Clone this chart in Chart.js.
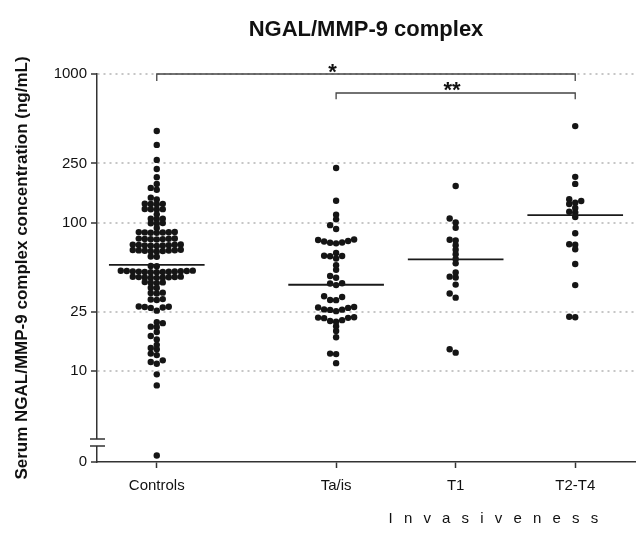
<!DOCTYPE html>
<html lang="en">
<head>
<meta charset="utf-8">
<title>NGAL/MMP-9 complex</title>
<script src="https://cdn.jsdelivr.net/npm/chart.js@4"></script>
<style>
  html, body { margin: 0; padding: 0; background: #fff; }
  canvas { display: block; }
</style>
</head>
<body>
<canvas id="grafico" width="639" height="545"></canvas>
<script>
const ctx = document.getElementById('grafico').getContext('2d');

// Datos (ng/mL)
const categorias = ['Controls', 'Ta/is', 'T1', 'T2-T4'];
const posiciones = [0, 1.5, 2.5, 3.5];

const controles = [413, 333, 264, 229, 202, 182, 171, 166, 147, 143,
  134.0, 133.6, 133.2, 132.8, 123.3, 123.0, 122.7, 122.4, 113.5,
  106.2, 105.9, 105.6, 99.1, 98.8, 98.5, 91.8,
  86.4, 86.2, 86.0, 85.8, 85.6, 85.4, 85.2,
  78.1, 77.9, 77.7, 77.5, 77.3, 77.1, 76.9,
  71.2, 71.0, 70.8, 70.6, 70.4, 70.2, 70.0, 69.8, 69.6,
  65.5, 65.3, 65.1, 64.9, 64.7, 64.5, 64.3, 64.1, 63.9,
  59.1, 58.8, 51.0, 50.7,
  47.4, 47.3, 47.2, 47.1, 47.0, 46.9, 46.8, 46.7, 46.6, 46.5, 46.4, 46.3, 46.2,
  43.2, 43.1, 43.0, 42.9, 42.8, 42.7, 42.6, 42.5, 42.4,
  39.7, 39.5, 39.3, 39.1, 36.4, 36.2, 33.7, 33.5, 33.3, 30.5, 30.3, 30.1,
  27.2, 27.1, 27.0, 26.8, 26.6, 25.5, 21.3, 21.0, 19.9, 19.8,
  18.3, 17.2, 16.3, 15.0, 14.3, 14.0, 13.1, 12.8, 11.8, 11.5, 11.2, 9.5, 8.0, 2.7];

const taIs = [233, 140, 113, 105, 96, 90.4,
  76.8, 76.2, 75.1, 74.5, 73.3, 73.1, 72.4,
  62.3, 59.7, 59.5, 59.3, 57.2, 51.5, 48.0, 43.6, 42.5, 39.0, 38.8, 37.9,
  31.9, 31.5, 30.1, 30.0, 27.0, 26.8, 26.6, 26.0, 25.9, 25.8, 25.3,
  23.0, 22.9, 22.8, 22.7, 22.0, 21.7, 21.5, 20.0, 18.6, 16.9, 13.1, 13.0, 11.3];

const t1 = [176, 106.5, 100, 92.3, 76.5, 75.6, 70.4, 65.6, 61.2, 56.9,
  53.1, 46.1, 43.2, 42.6, 38.2, 33.3, 31.2, 14.0, 13.3];

const t2t4 = [446, 203, 182, 143.3, 139.6, 135.7, 133.2, 125.2, 118.1, 116.8,
  108.9, 84.6, 71.4, 70.8, 66.0, 52.5, 37.9, 23.2, 23.0];

const medianas = [51.8, 38.1, 56.5, 112];

const ticksY = [10, 25, 100, 250, 1000];
const yMin = 2.44;   // marcado como "0" bajo el corte del eje
const yMax = 1000;
const corteEje = [3.13, 3.48];

const comparaciones = [
  { desde: 0, hasta: 3.5, nivel: 1000, pie: 897, texto: '*', xTexto: 1.47 },
  { desde: 1.5, hasta: 3.5, nivel: 745, pie: 675, texto: '**', xTexto: 2.47 }
];

const FUENTE = "'Liberation Sans', Arial, Helvetica, sans-serif";
Chart.defaults.font.family = FUENTE;
Chart.defaults.color = '#111';

const grupos = [controles, taIs, t1, t2t4];

// Reparte los puntos a lo ancho (tipo beeswarm) usando las escalas del gráfico
function enjambre(valores, centro, escalaX, escalaY) {
  const paso = 6 / (escalaX.getPixelForValue(1) - escalaX.getPixelForValue(0));
  const colocados = [];
  const orden = valores.map((v, i) => i).sort((a, b) => valores[a] - valores[b]);
  const puntos = new Array(valores.length);
  orden.forEach(i => {
    const py = escalaY.getPixelForValue(valores[i]);
    for (let k = 0; ; k++) {
      const col = k === 0 ? 0 : (k % 2 ? -(k + 1) / 2 : k / 2);
      const choca = colocados.some(p => p.col === col && Math.abs(p.py - py) < 4.4);
      if (!choca) {
        colocados.push({ col, py });
        puntos[i] = { x: centro + col * paso, y: valores[i] };
        break;
      }
    }
  });
  return puntos;
}

const datasets = [];
medianas.forEach((m, i) => datasets.push({
  data: [{ x: posiciones[i] - 0.4, y: m }, { x: posiciones[i] + 0.4, y: m }],
  showLine: true, borderColor: '#1a1a1a', borderWidth: 1.8, pointRadius: 0
}));
comparaciones.forEach(c => datasets.push({
  data: [{ x: c.desde, y: c.pie }, { x: c.desde, y: c.nivel }, { x: c.hasta, y: c.nivel }, { x: c.hasta, y: c.pie }],
  showLine: true, borderColor: '#444', borderWidth: 1.3, pointRadius: 0, clip: false
}));
grupos.forEach((g, i) => datasets.push({
  data: g.map(v => ({ x: posiciones[i], y: v })),
  pointRadius: 3.2, pointBackgroundColor: '#151515', pointBorderWidth: 0
}));

const extras = {
  id: 'extras',
  afterDraw(chart) {
    const { ctx, chartArea: area, scales: { x, y } } = chart;
    ctx.save();
    // corte del eje Y
    const yA = y.getPixelForValue(corteEje[1]);
    const yB = y.getPixelForValue(corteEje[0]);
    ctx.fillStyle = '#fff';
    ctx.fillRect(area.left - 2, yA, 4, yB - yA);
    ctx.strokeStyle = '#333';
    ctx.lineWidth = 1.5;
    ctx.beginPath();
    [yA, yB].forEach(py => { ctx.moveTo(area.left - 7, py); ctx.lineTo(area.left + 8, py); });
    ctx.stroke();
    // asteriscos de significación
    ctx.fillStyle = '#111';
    ctx.font = 'bold 22px ' + FUENTE;
    ctx.textAlign = 'center';
    ctx.textBaseline = 'alphabetic';
    comparaciones.forEach(c => ctx.fillText(c.texto, x.getPixelForValue(c.xTexto), y.getPixelForValue(c.nivel) + 4.5));
    // título del eje X
    ctx.font = '15px ' + FUENTE;
    ctx.letterSpacing = '3.5px';
    ctx.fillText('I n v a s i v e n e s s', x.getPixelForValue(2.83), area.bottom + 60.5);
    ctx.restore();
  }
};

const grafico = new Chart(ctx, {
  type: 'scatter',
  data: { datasets },
  options: {
    responsive: false,
    animation: false,
    devicePixelRatio: 1,
    events: [],
    layout: { padding: { left: 0, right: 1, top: 0, bottom: 0 } },
    plugins: {
      legend: { display: false },
      tooltip: { enabled: false },
      title: {
        display: true,
        text: 'NGAL/MMP-9 complex',
        fullSize: false,
        color: '#111',
        font: { size: 22, weight: 'bold' },
        padding: { top: 17, bottom: 30.6 }
      }
    },
    scales: {
      x: {
        type: 'linear',
        min: -0.5,
        max: 4.0,
        afterBuildTicks: s => { s.ticks = posiciones.map(v => ({ value: v })); },
        afterFit: s => { s.height = 83; },
        ticks: {
          callback: (v, i) => categorias[i],
          font: { size: 15 }, color: '#111', padding: 9, maxRotation: 0, autoSkip: false
        },
        grid: { drawOnChartArea: false, drawTicks: true, tickLength: 6, tickColor: '#333', tickWidth: 1.5 },
        border: { color: '#333', width: 1.5 }
      },
      y: {
        type: 'logarithmic',
        min: yMin,
        max: yMax,
        afterBuildTicks: s => { s.ticks = [yMin, ...ticksY].map(v => ({ value: v })); },
        afterFit: s => { s.width = 97; },
        ticks: {
          callback: v => v === yMin ? '0' : String(v),
          font: { size: 15 }, color: '#111', padding: 4, autoSkip: false
        },
        grid: {
          color: c => (c.tick && c.tick.value === yMin) ? 'rgba(0,0,0,0)' : '#c6c6c6',
          lineWidth: 2,
          tickLength: 6, tickColor: '#333', tickWidth: 1.5, tickBorderDash: []
        },
        border: { color: '#333', width: 1.5, dash: [2, 4] },
        title: {
          display: true,
          text: 'Serum NGAL/MMP-9 complex concentration (ng/mL)',
          color: '#111',
          font: { size: 17, weight: 'bold' },
          padding: { top: 12, bottom: 0 }
        }
      }
    }
  },
  plugins: [extras]
});

// Posiciones horizontales de los puntos según las escalas ya calculadas
grupos.forEach((g, i) => {
  grafico.data.datasets[medianas.length + comparaciones.length + i].data =
    enjambre(g, posiciones[i], grafico.scales.x, grafico.scales.y);
});
grafico.update('none');
</script>
</body>
</html>
